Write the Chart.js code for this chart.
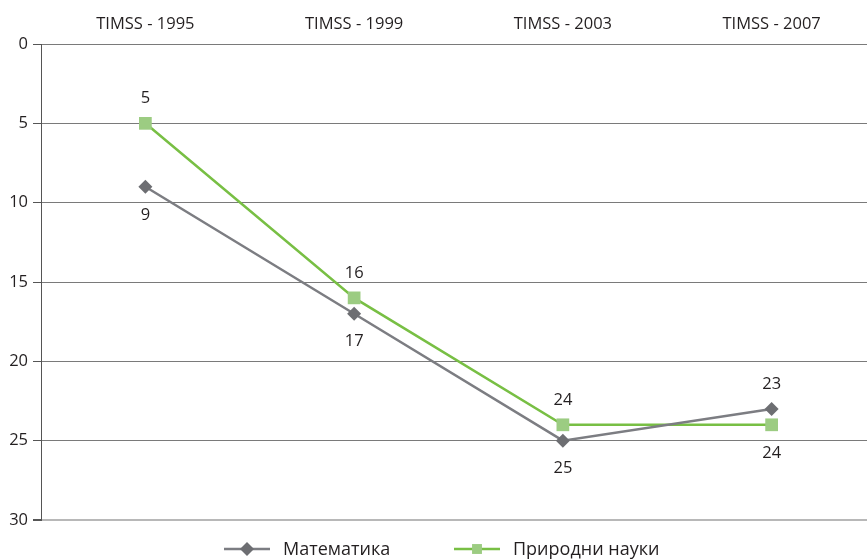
<!DOCTYPE html>
<html>
<head>
<meta charset="utf-8">
<script src="https://cdn.jsdelivr.net/npm/chart.js@4/dist/chart.umd.min.js"></script>
<style>
  html, body { margin: 0; padding: 0; background: #fff; overflow: hidden; }
  #wrap { width: 885px; height: 559px; }
</style>
</head>
<body>
<div id="wrap"><canvas id="rankChart" width="885" height="559"></canvas></div>
<script>
const years = ['TIMSS - 1995', 'TIMSS - 1999', 'TIMSS - 2003', 'TIMSS - 2007'];
const mathRank = [9, 17, 25, 23];
const scienceRank = [5, 16, 24, 24];
const seriesNames = ['Математика', 'Природни науки'];

Chart.defaults.font.family = "'Open Sans', 'Noto Sans', sans-serif";
Chart.defaults.color = '#231f20';

const GREY = '#7c7d82';
const GREY_DOT = '#6d6e72';
const GREEN = '#78bf44';
const GREEN_DOT = '#9ccc82';
const FONT = "16.5px 'Open Sans', 'Noto Sans', sans-serif";
const LEGEND_FONT = "18px 'Open Sans', 'Noto Sans', sans-serif";

// value labels, put on the side away from the other line
const valueLabels = {
  id: 'valueLabels',
  afterDatasetsDraw(chart) {
    const ctx = chart.ctx;
    ctx.save();
    ctx.font = FONT;
    ctx.fillStyle = '#231f20';
    ctx.textAlign = 'center';
    ctx.textBaseline = 'middle';
    chart.data.datasets.forEach((ds, i) => {
      const other = chart.data.datasets[1 - i].data;
      chart.getDatasetMeta(i).data.forEach((pt, j) => {
        const above = ds.data[j] < other[j];
        ctx.fillText(String(ds.data[j]), pt.x, pt.y + (above ? -25 : 28));
      });
    });
    ctx.restore();
  },
};

// legend drawn by hand: line with marker in the middle
const lineLegend = {
  id: 'lineLegend',
  afterDraw(chart) {
    const ctx = chart.ctx;
    const items = [
      { x: 224, color: GREY, dot: GREY_DOT, style: 'rectRot', name: seriesNames[0] },
      { x: 454, color: GREEN, dot: GREEN_DOT, style: 'rect', name: seriesNames[1] },
    ];
    const y = 549;
    ctx.save();
    items.forEach((it) => {
      ctx.strokeStyle = it.color;
      ctx.lineWidth = 2.5;
      ctx.beginPath();
      ctx.moveTo(it.x, y);
      ctx.lineTo(it.x + 46, y);
      ctx.stroke();
      ctx.fillStyle = it.dot;
      Chart.helpers.drawPoint(ctx, { pointStyle: it.style, radius: 7, borderWidth: 0 }, it.x + 23, y);
      ctx.fillStyle = '#231f20';
      ctx.font = LEGEND_FONT;
      ctx.textAlign = 'left';
      ctx.textBaseline = 'middle';
      ctx.fillText(it.name, it.x + 59, y + 1);
    });
    ctx.restore();
  },
};

const config = {
  type: 'line',
  data: {
    labels: years,
    datasets: [
      {
        label: seriesNames[0],
        data: mathRank,
        borderColor: GREY,
        backgroundColor: GREY_DOT,
        borderWidth: 2.5,
        pointStyle: 'rectRot',
        pointRadius: 7,
        pointBorderWidth: 0,
        tension: 0,
      },
      {
        label: seriesNames[1],
        data: scienceRank,
        borderColor: GREEN,
        backgroundColor: GREEN_DOT,
        borderWidth: 2.5,
        pointStyle: 'rect',
        pointRadius: 9,
        pointBorderWidth: 0,
        tension: 0,
      },
    ],
  },
  options: {
    responsive: false,
    animation: false,
    layout: { padding: { top: 0, right: 0, bottom: 39, left: 0 } },
    plugins: {
      legend: { display: false },
      tooltip: { enabled: false },
    },
    scales: {
      x: {
        position: 'top',
        offset: true,
        grid: { display: false, drawTicks: false },
        border: { display: false },
        ticks: { font: { size: 16.5 }, color: '#231f20', padding: 10, maxRotation: 0 },
        afterFit(scale) { scale.height = 44; scale.paddingRight = 0; scale.paddingLeft = 0; },
      },
      y: {
        reverse: true,
        min: 0,
        max: 30,
        ticks: { stepSize: 5, font: { size: 16.5 }, color: '#231f20', padding: 5 },
        grid: {
          color: (c) => (c.tick && c.tick.value === 30 ? '#b8b8b8' : '#7a7a7a'),
          lineWidth: (c) => (c.tick && c.tick.value === 30 ? 2 : 1),
          tickLength: 8,
          tickColor: '#555',
        },
        border: { color: '#555', width: 1 },
        afterFit(scale) { scale.width = 41; },
      },
    },
  },
  plugins: [valueLabels, lineLegend],
};

new Chart(document.getElementById('rankChart'), config);
</script>
</body>
</html>
